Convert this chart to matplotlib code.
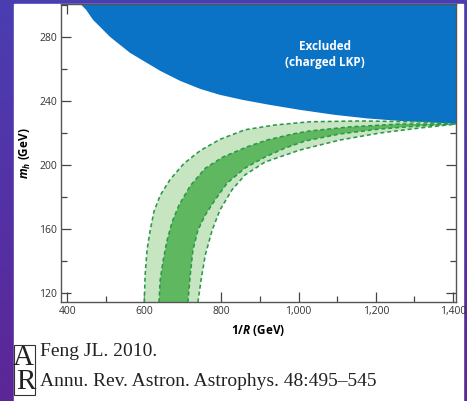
import numpy as np
import matplotlib
matplotlib.use("Agg")
import matplotlib.pyplot as plt
from matplotlib.patches import Rectangle
from matplotlib.ticker import MultipleLocator, FuncFormatter

plt.rcParams['font.family'] = ['Open Sans', 'DejaVu Sans']
plt.rcParams['mathtext.fontset'] = 'custom'
plt.rcParams['mathtext.it'] = 'Open Sans:bold:italic'
plt.rcParams['mathtext.rm'] = 'Open Sans:bold'

# excluded region boundary (charged LKP)
excl_R = [428, 434, 449, 467, 488, 511, 537, 563, 602, 641, 693, 745, 796, 856,
          926, 1004, 1094, 1177, 1263, 1340, 1410, 1420]
excl_m = [302, 300.6, 296.9, 290.6, 285.6, 280, 275, 270, 264.4, 258.8, 252.5, 247.5,
          243.8, 240.6, 237.5, 234.4, 231.3, 229.1, 227.5, 226.3, 225.6, 225.6]

# band boundaries: outer-left, inner-left, inner-right, outer-right
ol_R = [600, 600, 602, 607, 615, 625, 641, 667, 703, 745, 796, 861, 939, 1030, 1159, 1314, 1410]
ol_m = [110, 114.4, 131, 147, 159, 171, 181, 191, 201, 209, 216, 222, 225, 227, 227.5, 227, 225.6]
il_R = [638, 638, 641, 649, 659, 672, 690, 719, 758, 804, 866, 918, 985, 1030, 1133, 1263, 1410]
il_m = [110, 114.4, 128, 140.6, 153, 164.4, 175, 187, 198, 205, 211.3, 215.6, 219.4, 221.3, 223.8, 225.6, 225.6]
ir_R = [713, 713, 719, 726, 739, 758, 783, 815, 861, 913, 965, 1017, 1107, 1211, 1314, 1410]
ir_m = [110, 114.4, 131.3, 146.9, 159.4, 168.8, 178.1, 188.8, 198.1, 205, 210.6, 215, 219.4, 222.5, 224.4, 225.6]
or_R = [739, 739, 747, 758, 776, 796, 827, 861, 913, 1004, 1107, 1211, 1314, 1410]
or_m = [110, 114.4, 128.1, 143.8, 159.4, 171.9, 184.4, 193.8, 201.9, 209.4, 215.6, 220, 223.1, 225.6]

blue = '#0a73c6'
light_green = '#c8e5c1'
dark_green = '#5fb860'
edge_green = '#2a984c'

fig = plt.figure(figsize=(4.67, 4.01), dpi=100)

# purple slide background + white panel
bg = fig.add_axes([0, 0, 1, 1], zorder=-10)
grad = np.linspace(0, 1, 256).reshape(-1, 1, 1)
top_c = np.array([74, 62, 178]) / 255.0
bot_c = np.array([92, 38, 152]) / 255.0
img = top_c * (1 - grad) + bot_c * grad
bg.imshow(np.repeat(img, 4, axis=1), aspect='auto', extent=[0, 1, 0, 1])
bg.add_patch(Rectangle((14 / 467, 0), (463 - 14) / 467, 397 / 401, color='white'))
bg.set_xlim(0, 1)
bg.set_ylim(0, 1)
bg.axis('off')

ax = fig.add_axes([61 / 467, 99 / 401, (456 - 61) / 467, (397 - 99) / 401])

ax.fill(excl_R + [1420, 428], excl_m + [310, 310], color=blue, lw=0, zorder=2)

ax.fill(ol_R + or_R[::-1], ol_m + or_m[::-1], color=light_green, lw=0, zorder=3)
ax.fill(il_R + ir_R[::-1], il_m + ir_m[::-1], color=dark_green, lw=0, zorder=3)
for r, m in [(ol_R, ol_m), (il_R, il_m), (ir_R, ir_m), (or_R, or_m)]:
    ax.plot(r, m, color=edge_green, lw=1.15, ls=(0, (2.5, 1.8)), zorder=4)

ax.text(1068, 269, 'Excluded\n(charged LKP)', color='white', fontsize=8.5,
        fontweight='bold', ha='center', va='center', linespacing=1.25, zorder=5)

ax.set_xlim(384, 1408)
ax.set_ylim(114.5, 300.5)

ax.xaxis.set_major_locator(MultipleLocator(200))
ax.xaxis.set_minor_locator(MultipleLocator(100))
ax.yaxis.set_major_locator(MultipleLocator(40))
ax.yaxis.set_minor_locator(MultipleLocator(20))
ax.xaxis.set_major_formatter(FuncFormatter(lambda v, p: '{:,.0f}'.format(v)))

ax.tick_params(which='both', direction='in', top=True, right=True, color='#444444',
               labelsize=7.5, labelcolor='#333333', width=0.9)
ax.tick_params(which='major', length=7, pad=3)
ax.tick_params(which='minor', length=4)
for s in ax.spines.values():
    s.set_color('#555555')
    s.set_linewidth(1.0)
    s.set_zorder(6)

ax.set_xlabel(r'1/$R$ (GeV)', fontsize=8.5, fontweight='bold', labelpad=4)
ax.set_ylabel(r'$m_h$ (GeV)', fontsize=8.5, fontweight='bold', labelpad=4)

# citation
bg.add_patch(Rectangle((14 / 467, 1 - 395 / 401), 21 / 467, 50 / 401, fill=False,
                       ec='#333333', lw=0.8))
bg.text(23 / 467, 1 - 358 / 401, 'A', family='Liberation Serif', fontsize=21,
        ha='center', va='center', color='#222222')
bg.text(26 / 467, 1 - 382 / 401, 'R', family='Liberation Serif', fontsize=21,
        ha='center', va='center', color='#222222')
bg.text(40 / 467, 1 - 352 / 401, 'Feng JL. 2010.', family='Liberation Serif',
        fontsize=14, ha='left', va='center', color='#222222')
bg.text(40 / 467, 1 - 381 / 401, 'Annu. Rev. Astron. Astrophys. 48:495\u2013545',
        family='Liberation Serif', fontsize=14, ha='left', va='center', color='#222222')

fig.savefig('out.png', dpi=100)
